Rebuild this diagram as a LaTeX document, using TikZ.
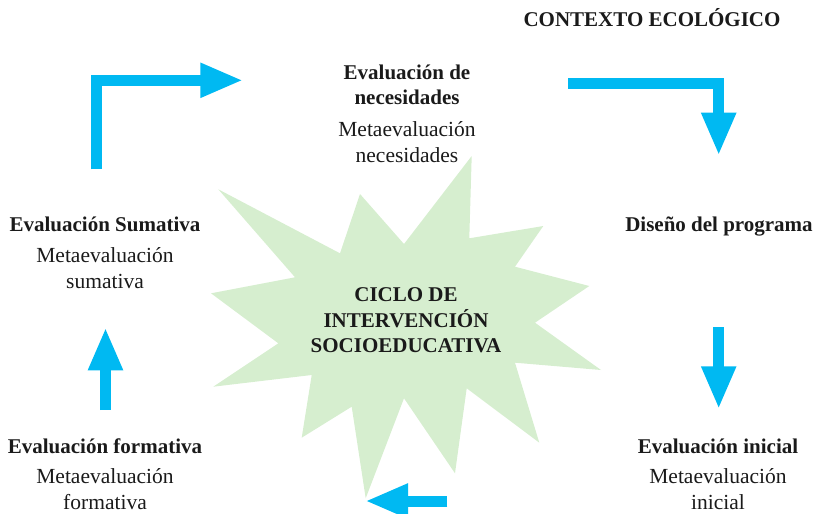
\documentclass[tikz,border=0pt]{standalone}
\usepackage{fontspec}
\setmainfont{Liberation Serif}
\usetikzlibrary{arrows.meta}

\definecolor{flecha}{RGB}{0,185,242}
\definecolor{estrella}{RGB}{214,238,207}
\definecolor{texto}{RGB}{26,26,26}

\tikzset{
  titulo/.style={align=center, text=texto, inner sep=0pt, anchor=base,
    font=\fontsize{21}{25.5}\selectfont\bfseries},
  meta/.style={align=center, text=texto, inner sep=0pt, anchor=base,
    font=\fontsize{21.5}{26}\selectfont},
  flechaazul/.style={draw=flecha, line width=11pt,
    -{Triangle[length=43pt,width=32pt]}},
}

\begin{document}
\begin{tikzpicture}[x=1pt,y=-1pt]
\useasboundingbox (0,0) rectangle (817,514);

% estrella central
\fill[estrella] (471.7,156) -- (469.3,238.3) -- (543.3,226) -- (515,266.7)
  -- (589.3,286) -- (535,322.7) -- (601,370) -- (515,362.7)
  -- (539.3,442.7) -- (466.7,388.3) -- (455,473.3) -- (404,398.3)
  -- (365.7,498.3) -- (351.7,406.7) -- (301.7,437.7) -- (311.7,375)
  -- (213.3,386.7) -- (278.3,343.3) -- (211,293.3) -- (295,277.3)
  -- (218.3,189.3) -- (340,253.3) -- (360,194) -- (404,244) -- cycle;

% anchor=base: baseline of the last line
\node[titulo] (ciclo) at (406,352.5) {CICLO DE\\INTERVENCIÓN\\SOCIOEDUCATIVA};

\node[titulo] (contexto) at (652,27) {CONTEXTO ECOLÓGICO};

% etapas
\node[titulo] (necT) at (407,104.5) {Evaluación de\\necesidades};
\node[meta] (necM) at (407,162.5) {Metaevaluación\\necesidades};

\node[titulo] (diseno) at (719,231.7) {Diseño del programa};

\node[titulo] (iniT) at (718,453) {Evaluación inicial};
\node[meta] (iniM) at (718,509.5) {Metaevaluación\\inicial};

\node[titulo] (forT) at (105,453) {Evaluación formativa};
\node[meta] (forM) at (105,509.5) {Metaevaluación\\formativa};

\node[titulo] (sumT) at (105,231.7) {Evaluación Sumativa};
\node[meta] (sumM) at (105,288.7) {Metaevaluación\\sumativa};

% flechas
\coordinate (a1) at (96.3,169.3);
\coordinate (a2) at (96.3,80.3);
\coordinate (a3) at (243.3,80.3);
\coordinate (b1) at (568.3,83.7);
\coordinate (b2) at (718.7,83.7);
\coordinate (b3) at (718.7,155.7);
\coordinate (c1) at (718.7,327.3);
\coordinate (c2) at (718.7,409.3);
\coordinate (d1) at (447.3,501);
\coordinate (d2) at (365,501);
\coordinate (e1) at (105.5,410);
\coordinate (e2) at (105.5,327.3);

\draw[flechaazul] (a1) -- (a2) -- (a3);
\draw[flechaazul] (b1) -- (b2) -- (b3);
\draw[flechaazul] (c1) -- (c2);
\draw[flechaazul] (d1) -- (d2);
\draw[flechaazul] (e1) -- (e2);

\end{tikzpicture}
\end{document}
